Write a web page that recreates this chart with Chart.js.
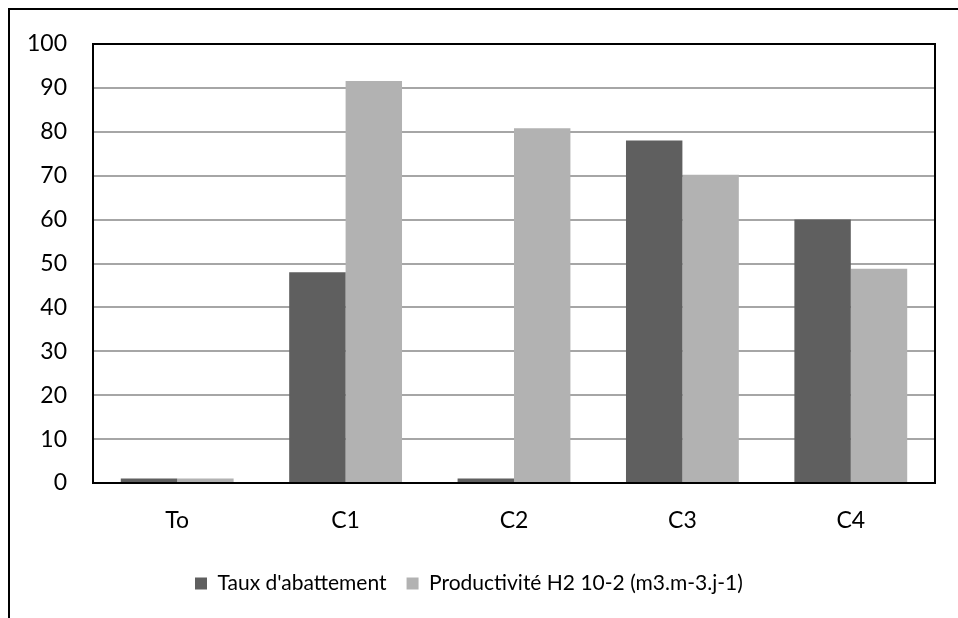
<!DOCTYPE html>
<html>
<head>
<meta charset="utf-8">
<script src="https://cdn.jsdelivr.net/npm/chart.js@4.4.1/dist/chart.umd.min.js"></script>
<style>
  html, body { margin: 0; padding: 0; background: #fff; overflow: hidden; }
  #wrap { position: relative; width: 958px; height: 618px; }
  #frame { position: absolute; left: 8px; top: 8px; width: 1000px; height: 700px; border-top: 2px solid #000; border-left: 2px solid #000; }
  canvas { position: absolute; left: 0; top: 0; }
</style>
</head>
<body>
<div id="wrap">
  <div id="frame"></div>
  <canvas id="chart" width="958" height="618"></canvas>
</div>
<script>
// Données
const categories = ['To', 'C1', 'C2', 'C3', 'C4'];
const tauxAbattement = [1, 48, 1, 78, 60];
const productiviteH2 = [1, 91.6, 80.8, 70.2, 48.8];
const yTicks = [0, 10, 20, 30, 40, 50, 60, 70, 80, 90, 100];

const FONT = "Lato, sans-serif";

// Bordure noire autour de la zone de tracé
const plotBorder = {
  id: 'plotBorder',
  afterDraw(chart) {
    const { ctx, chartArea: a } = chart;
    ctx.save();
    ctx.strokeStyle = '#000';
    ctx.lineWidth = 2;
    ctx.strokeRect(a.left, a.top, a.right - a.left, a.bottom - a.top);
    ctx.restore();
  },
};

// Décale la légende vers la gauche comme dans l'original
const legendShift = {
  id: 'legendShift',
  afterLayout(chart) {
    if (chart.legend) chart.legend.left = 175;
  },
};

const chart = new Chart(document.getElementById('chart'), {
  type: 'bar',
  data: {
    labels: categories,
    datasets: [
      { label: "Taux d'abattement", data: tauxAbattement, backgroundColor: '#5f5f5f' },
      { label: 'Productivité H2 10-2 (m3.m-3.j-1)', data: productiviteH2, backgroundColor: '#b2b2b2' },
    ],
  },
  options: {
    responsive: false,
    animation: false,
    devicePixelRatio: 1,
    layout: { padding: { left: 10, top: 44, right: 23, bottom: 0 } },
    datasets: { bar: { categoryPercentage: 0.67, barPercentage: 1 } },
    plugins: {
      tooltip: { enabled: false },
      legend: {
        position: 'bottom',
        align: 'start',
        labels: {
          color: '#000',
          font: { family: FONT, size: 21 },
          boxWidth: 12,
          boxHeight: 12,
          padding: 20,
        },
      },
    },
    scales: {
      x: {
        grid: { display: false },
        border: { display: false },
        ticks: { color: '#000', font: { family: FONT, size: 23 }, padding: 16 },
        afterFit(scale) { scale.height = 70; },
      },
      y: {
        min: 0,
        max: 100,
        afterBuildTicks(scale) { scale.ticks = yTicks.map(v => ({ value: v })); },
        grid: { color: '#a6a6a6', lineWidth: 2, drawTicks: false },
        border: { display: false },
        ticks: { color: '#000', font: { family: FONT, size: 23 }, padding: 26 },
        afterFit(scale) { scale.width = 83; },
      },
    },
  },
  plugins: [plotBorder, legendShift],
});

// Hauteur fixe pour la légende
const origFit = chart.legend.fit;
chart.legend.fit = function () {
  origFit.call(this);
  this.height = 65;
};
chart.update();
</script>
</body>
</html>
